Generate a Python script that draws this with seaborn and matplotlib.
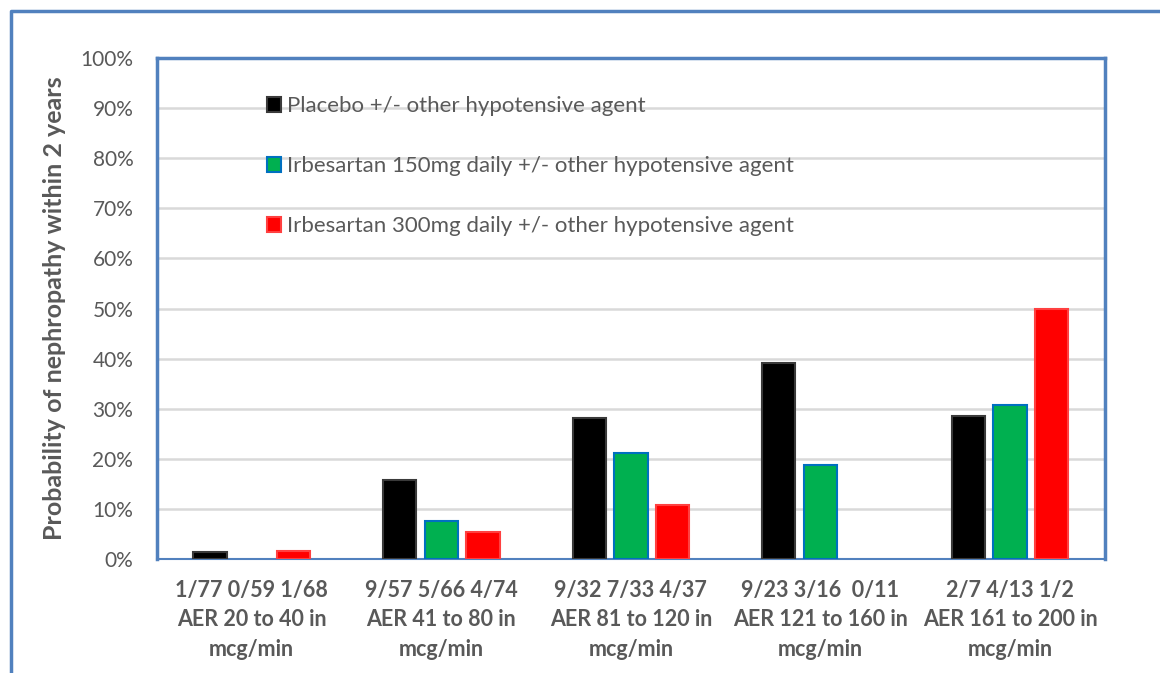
import pandas as pd
import matplotlib.pyplot as plt
import seaborn as sns
from matplotlib.lines import Line2D
from matplotlib.ticker import PercentFormatter

# Data: probability of nephropathy within 2 years, by AER band
groups = ['1/77 0/59 1/68\nAER 20 to 40 in\nmcg/min',
          '9/57 5/66 4/74\nAER 41 to 80 in\nmcg/min',
          '9/32 7/33 4/37\nAER 81 to 120 in\nmcg/min',
          '9/23 3/16  0/11\nAER 121 to 160 in\nmcg/min',
          '2/7 4/13 1/2\nAER 161 to 200 in\nmcg/min']
treatments = ['Placebo +/- other hypotensive agent',
              'Irbesartan 150mg daily +/- other hypotensive agent',
              'Irbesartan 300mg daily +/- other hypotensive agent']
placebo = [1.3, 15.8, 28.1, 39.1, 28.6]
irb150 = [0.0, 7.6, 21.2, 18.75, 30.8]
irb300 = [1.5, 5.4, 10.8, 0.0, 50.0]

rows = []
for t, vals in zip(treatments, [placebo, irb150, irb300]):
    for g, v in zip(groups, vals):
        rows.append({'group': g, 'treatment': t, 'prob': v})
data = pd.DataFrame(rows)

sns.set_style("white")
plt.rcParams['font.family'] = ['Lato', 'DejaVu Sans']

grey = '#595959'
blue = '#5181BE'
colors = ['#000000', '#00B050', '#FF0000']
edges = ['#3a3a3a', '#0070C0', '#FF4040']

fig = plt.figure(figsize=(11.6, 6.73), dpi=100)
ax = fig.add_axes([0.1353, 0.1694, 0.8172, 0.7444])

sns.barplot(data=data, x='group', y='prob', hue='treatment', palette=colors,
            saturation=1, width=0.66, gap=0.2, ax=ax, zorder=3)

for cont, ec in zip(ax.containers, edges):
    for p in cont:
        p.set_edgecolor(ec)
        p.set_linewidth(1.5 if p.get_height() > 0 else 0)

ax.set_ylim(0, 100)
ax.set_xlim(-0.5, 4.5)
ax.set_yticks(range(0, 101, 10))
ax.yaxis.set_major_formatter(PercentFormatter(decimals=0))
ax.grid(axis='y', color='#D9D9D9', linewidth=1.8, zorder=0)
ax.set_axisbelow(True)

for s in ax.spines.values():
    s.set_color(blue)
    s.set_linewidth(2.5)
ax.spines['bottom'].set_linewidth(1.5)

ax.tick_params(axis='y', length=0, pad=17, labelsize=15, labelcolor=grey)
ax.tick_params(axis='x', length=0, pad=15, labelsize=15.5, labelcolor=grey)
for lbl in ax.get_xticklabels():
    lbl.set_fontweight('bold')
    lbl.set_linespacing(1.5)

ax.set_xlabel('')
ax.set_ylabel('Probability of nephropathy within 2 years', fontsize=18,
              fontweight='bold', color=grey, labelpad=10)

handles = [plt.Rectangle((0, 0), 1, 1, facecolor=c, edgecolor=e, linewidth=1.5)
           for c, e in zip(colors, edges)]
ax.legend(handles, treatments, loc='upper left', bbox_to_anchor=(0.095, 0.964),
          frameon=False, fontsize=16, labelcolor=grey, handlelength=0.65,
          handleheight=0.65, handletextpad=0.25, labelspacing=1.8)

# outer chart-area border (only top and left visible in the crop)
fig.add_artist(Line2D([0.0095, 0.0095, 1.0], [0.0, 0.984, 0.984],
                      transform=fig.transFigure, color=blue, linewidth=2.5))

fig.savefig('out.png', dpi=100)
